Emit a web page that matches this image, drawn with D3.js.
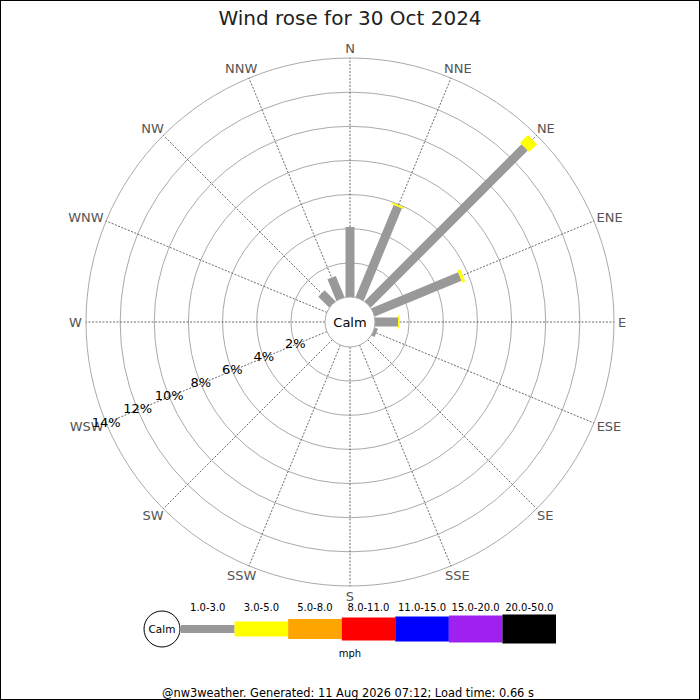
<!DOCTYPE html>
<html>
<head>
<meta charset="utf-8">
<script src="https://cdn.jsdelivr.net/npm/d3@7"></script>
<style>
  html, body { margin: 0; padding: 0; background: #fff; }
  svg { display: block; font-family: "DejaVu Sans", sans-serif; }
</style>
</head>
<body>
<svg id="chart" width="700" height="700"></svg>
<script>
// ---- data ----
const directions = ["N","NNE","NE","ENE","E","ESE","SE","SSE","S","SSW","SW","WSW","W","WNW","NW","NNW"];
const speedBands = ["1.0-3.0","3.0-5.0","5.0-8.0","8.0-11.0","11.0-15.0","15.0-20.0","20.0-50.0"];
const bandColors = ["#999999","#ffff00","#ffa500","#ff0000","#0000ff","#a020f0","#000000"];
// percentage of time per direction for each speed band
const band1to3   = [4.1, 5.85, 13.0, 5.5, 1.35, 0.2, 0, 0, 0, 0, 0, 0, 0, 0, 0.9, 1.35];
const band3to5   = [0, 0.1, 0.65, 0.18, 0.06, 0, 0, 0, 0, 0, 0, 0, 0, 0, 0, 0];
const band5to8   = [0,0,0,0,0,0,0,0,0,0,0,0,0,0,0,0];
const band8to11  = [0,0,0,0,0,0,0,0,0,0,0,0,0,0,0,0];
const band11to15 = [0,0,0,0,0,0,0,0,0,0,0,0,0,0,0,0];
const band15to20 = [0,0,0,0,0,0,0,0,0,0,0,0,0,0,0,0];
const band20to50 = [0,0,0,0,0,0,0,0,0,0,0,0,0,0,0,0];
const bandValues = [band1to3, band3to5, band5to8, band8to11, band11to15, band15to20, band20to50];
const ringTicks = [2, 4, 6, 8, 10, 12, 14];
const tickDirection = "WSW";
const titleText = "Wind rose for 30 Oct 2024";
const unitText = "mph";
const footerText = "@nw3weather. Generated: 11 Aug 2026 07:12; Load time: 0.66 s";

// ---- layout / style ----
const W = 700, H = 700, cx = 350, cy = 322;
const calmR = 25, outerR = 264;
const roseWidths = [9, 13, 17, 20, 22, 24, 26];
const legendHeights = [8, 15, 20, 23, 25, 27, 29];

const svg = d3.select("#chart");
svg.append("rect").attr("x", 0.5).attr("y", 0.5).attr("width", W - 1).attr("height", H - 1)
  .attr("fill", "#fff").attr("stroke", "#000").attr("stroke-width", 1);

const r = d3.scaleLinear().domain([0, 14]).range([calmR, outerR]);
const ang = d3.scaleBand().domain(directions).range([0, 2 * Math.PI]);
const px = (a, rr) => cx + rr * Math.sin(a);
const py = (a, rr) => cy - rr * Math.cos(a);

// title
svg.append("text").attr("x", cx).attr("y", 25).attr("text-anchor", "middle")
  .attr("font-size", 20).attr("fill", "#222").text(titleText);

const g = svg.append("g");

// rings
g.selectAll("circle.ring").data(ringTicks).join("circle")
  .attr("class", "ring").attr("cx", cx).attr("cy", cy).attr("r", d => r(d))
  .attr("fill", "none").attr("stroke", "#aaaaaa").attr("stroke-width", 1);

// spokes
g.selectAll("line.spoke").data(directions).join("line")
  .attr("class", "spoke")
  .attr("x1", d => px(ang(d), calmR)).attr("y1", d => py(ang(d), calmR))
  .attr("x2", d => px(ang(d), r(14))).attr("y2", d => py(ang(d), r(14)))
  .attr("stroke", "#444").attr("stroke-width", 0.8).attr("stroke-dasharray", "2,1.5");

// direction labels
const lblR = outerR + 4;
g.selectAll("text.dir").data(directions).join("text")
  .attr("class", "dir").attr("font-size", 13).attr("fill", "#555")
  .attr("text-anchor", "middle").attr("dominant-baseline", "central")
  .text(d => d)
  .each(function (d) {
    const a = ang(d);
    const bb = this.getBBox();
    const x = px(a, lblR) + Math.sin(a) * bb.width / 2;
    const y = py(a, lblR) - Math.cos(a) * 6;
    d3.select(this).attr("x", x).attr("y", y);
  });

// bars
const segs = [];
directions.forEach((d, i) => {
  let cum = 0;
  bandValues.forEach((vals, b) => {
    const v = vals[i];
    if (v > 0) { segs.push({ dir: d, band: b, from: cum, to: cum + v }); cum += v; }
  });
});
g.selectAll("line.bar").data(segs).join("line")
  .attr("class", "bar")
  .attr("x1", s => px(ang(s.dir), r(s.from))).attr("y1", s => py(ang(s.dir), r(s.from)))
  .attr("x2", s => px(ang(s.dir), r(s.to))).attr("y2", s => py(ang(s.dir), r(s.to)))
  .attr("stroke", s => bandColors[s.band]).attr("stroke-width", s => roseWidths[s.band])
  .attr("stroke-linecap", "butt");

// calm circle
g.append("circle").attr("cx", cx).attr("cy", cy).attr("r", calmR)
  .attr("fill", "#fff").attr("stroke", "#aaaaaa").attr("stroke-width", 1);
g.append("text").attr("x", cx).attr("y", cy).attr("text-anchor", "middle")
  .attr("dominant-baseline", "central").attr("font-size", 13).attr("fill", "#000").text("Calm");

// percentage labels
g.selectAll("text.pct").data(ringTicks).join("text")
  .attr("class", "pct").attr("font-size", 13).attr("fill", "#000")
  .attr("text-anchor", "middle").attr("dominant-baseline", "central")
  .attr("x", d => px(ang(tickDirection), r(d))).attr("y", d => py(ang(tickDirection), r(d)) - 1)
  .text(d => d + "%");

// legend
const lg = svg.append("g");
const lx = d3.scaleBand().domain(speedBands).range([181, 556]);
const ly = 629;
lg.append("circle").attr("cx", 162).attr("cy", ly).attr("r", 18)
  .attr("fill", "#fff").attr("stroke", "#000").attr("stroke-width", 1);
lg.append("text").attr("x", 162).attr("y", ly).attr("text-anchor", "middle")
  .attr("dominant-baseline", "central").attr("font-size", 10.5).text("Calm");
lg.selectAll("rect.leg").data(speedBands).join("rect")
  .attr("class", "leg")
  .attr("x", d => lx(d)).attr("width", lx.bandwidth())
  .attr("y", (d, i) => ly - legendHeights[i] / 2).attr("height", (d, i) => legendHeights[i])
  .attr("fill", (d, i) => bandColors[i]);
lg.selectAll("text.leg").data(speedBands).join("text")
  .attr("class", "leg").attr("font-size", 10).attr("fill", "#000").attr("text-anchor", "middle")
  .attr("x", d => lx(d) + lx.bandwidth() / 2).attr("y", 611).text(d => d);
lg.append("text").attr("x", cx).attr("y", 657).attr("text-anchor", "middle")
  .attr("font-size", 10).text(unitText);

// footer
svg.append("text").attr("x", 348).attr("y", 697).attr("text-anchor", "middle")
  .attr("font-size", 11.4).attr("fill", "#000").text(footerText);
</script>
</body>
</html>
